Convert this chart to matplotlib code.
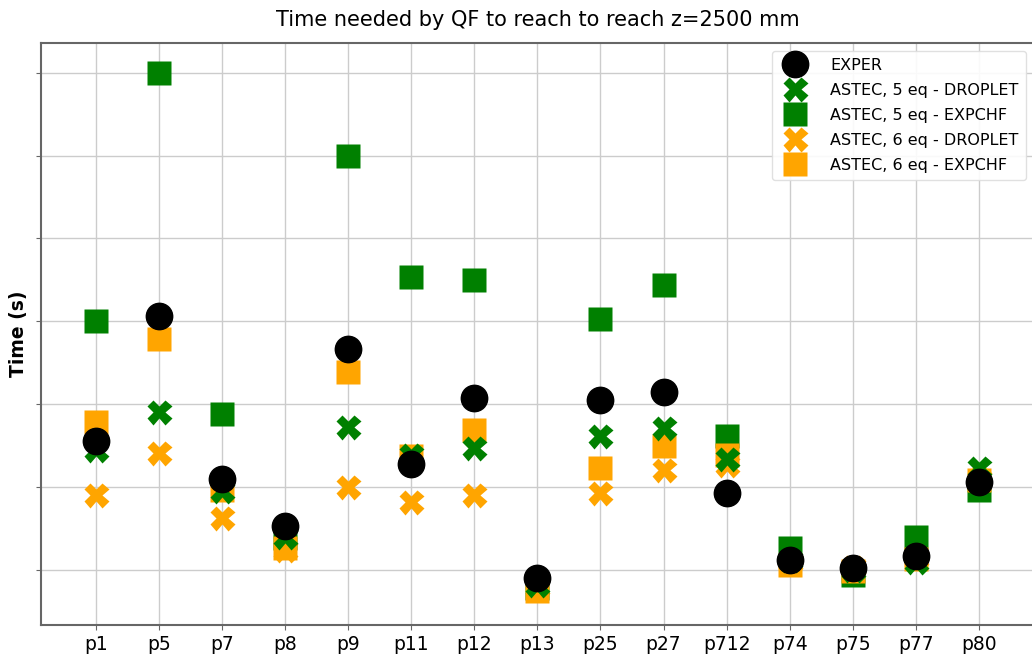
import matplotlib
matplotlib.use("Agg")
import matplotlib.pyplot as plt

# Test cases (x axis)
cases = ["p1", "p5", "p7", "p8", "p9", "p11", "p12", "p13",
         "p25", "p27", "p712", "p74", "p75", "p77", "p80"]

# Time needed to reach z=2500 mm (arbitrary units)
exper = [256, 407, 210, 153, 367, 228, 308, 90, 305, 315, 193, 112, 102, 117, 206]
astec5_droplet = [245, 291, 195, 140, 273, 239, 247, 82, 262, 271, 234, 112, 100, 110, 223]
astec5_expchf = [400, 700, 288, 139, 600, 453, 450, 78, 403, 444, 262, 127, 94, 140, 197]
astec6_droplet = [190, 241, 163, 124, 200, 182, 191, 80, 193, 221, 227, 110, 103, 115, 210]
astec6_expchf = [279, 379, 197, 127, 339, 237, 269, 75, 223, 249, 239, 106, 99, 113, 209]

x = list(range(len(cases)))

fig = plt.figure(figsize=(10.32, 6.57), dpi=100)
ax = fig.add_axes([0.0397, 0.0487, 0.962, 0.886])

ms = 18
ax.plot(x, exper, "o", color="black", ms=ms + 1, label="EXPER", zorder=10)
ax.plot(x, astec5_droplet, "X", color="green", ms=ms, mec="none", label="ASTEC, 5 eq - DROPLET", zorder=8)
ax.plot(x, astec5_expchf, "s", color="green", ms=ms - 1, mec="none", label="ASTEC, 5 eq - EXPCHF", zorder=6)
ax.plot(x, astec6_droplet, "X", color="orange", ms=ms, mec="none", label="ASTEC, 6 eq - DROPLET", zorder=5)
ax.plot(x, astec6_expchf, "s", color="orange", ms=ms - 1, mec="none", label="ASTEC, 6 eq - EXPCHF", zorder=7)

ax.set_xlim(-0.87, 14.87)
ax.set_ylim(33.6, 736)
ax.set_xticks(x)
ax.set_xticklabels(cases, fontsize=13.5)
ax.set_yticks([100, 200, 300, 400, 500, 600, 700])
ax.set_yticklabels([])
ax.grid(True, color="#cccccc", linewidth=1)
ax.set_axisbelow(True)
for s in ax.spines.values():
    s.set_color("#666666")
    s.set_linewidth(1.5)
ax.spines["right"].set_visible(False)
ax.tick_params(color="#666666")

ax.set_ylabel("Time (s)", fontsize=13.5, fontweight="bold", labelpad=2)
ax.set_title("Time needed by QF to reach to reach z=2500 mm", fontsize=15, pad=12)

ax.legend(loc="upper right", fontsize=11.5, labelspacing=0.62, handletextpad=1.2,
          borderpad=0.45, framealpha=0.9, edgecolor="#dddddd")

fig.savefig("out.png", dpi=100)
